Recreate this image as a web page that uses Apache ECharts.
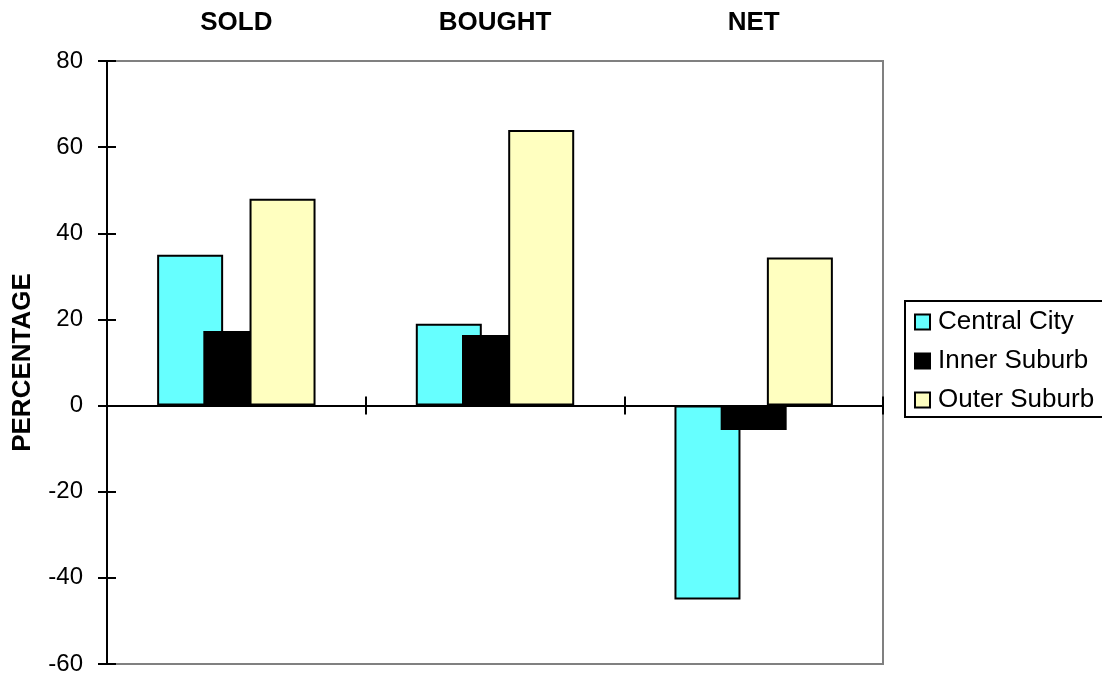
<!DOCTYPE html>
<html>
<head>
<meta charset="utf-8">
<script src="https://cdn.jsdelivr.net/npm/echarts@6/dist/echarts.min.js"></script>
<style>
  html, body { margin: 0; padding: 0; background: #fff; }
  #chart { width: 1102px; height: 679px; }
</style>
</head>
<body>
<div id="chart"></div>
<script>
const categories = ["SOLD", "BOUGHT", "NET"]
const centralCity = [35, 19, -45]
const innerSuburb = [17.3, 16.4, -5.7]
const outerSuburb = [48, 64, 34.4]
const yTicks = { min: -60, max: 80, interval: 20 }

const font = "Liberation Sans, Arial, sans-serif"

// x axes: two at zero (ticks down + ticks up), one on top for the labels
const zeroAxis = (inside) => ({
	type: "category",
	data: categories,
	position: "bottom",
	axisLine: { show: true, onZero: true, lineStyle: { color: "#000", width: 2 } },
	axisTick: { show: true, inside: inside, length: 9, interval: 0, lineStyle: { color: "#000", width: 2 } },
	axisLabel: { show: false },
	splitLine: { show: false }
})

const xAxis = [
	zeroAxis(false),
	zeroAxis(true),
	{
		type: "category",
		data: categories,
		position: "top",
		axisLine: { show: false, onZero: false },
		axisTick: { show: false },
		axisLabel: { show: true, margin: 25, color: "#000", fontSize: 26, fontWeight: "bold", fontFamily: font },
		splitLine: { show: false }
	}
]

const yAxis = [
	{
		type: "value",
		position: "left",
		min: yTicks.min,
		max: yTicks.max,
		interval: yTicks.interval,
		name: "PERCENTAGE",
		nameLocation: "middle",
		nameRotate: 90,
		nameGap: 71,
		nameTextStyle: { color: "#000", fontSize: 26, fontWeight: "bold", fontFamily: font },
		axisLine: { show: true, lineStyle: { color: "#000", width: 2 } },
		axisTick: { show: true, length: 9, lineStyle: { color: "#000", width: 2 } },
		axisLabel: { margin: 24, color: "#000", fontSize: 24, fontFamily: font },
		splitLine: { show: false }
	},
	{
		type: "value",
		position: "left",
		min: yTicks.min,
		max: yTicks.max,
		interval: yTicks.interval,
		axisLine: { show: false },
		axisTick: { show: true, inside: true, length: 9, lineStyle: { color: "#000", width: 2 } },
		axisLabel: { show: false },
		splitLine: { show: false }
	}
]

const barStyle = (color) => ({ color: color, borderColor: "#000", borderWidth: 2 })

const series = [
	{ name: "Central City", type: "bar", data: centralCity, itemStyle: barStyle("#66FFFF") },
	{ name: "Inner Suburb", type: "bar", data: innerSuburb, itemStyle: barStyle("#000000") },
	{ name: "Outer Suburb", type: "bar", data: outerSuburb, itemStyle: barStyle("#FFFFC0") }
].map((s) => Object.assign(s, { barWidth: 66, barGap: "-30%", xAxisIndex: 0, yAxisIndex: 0 }))

const chart = echarts.init(document.getElementById("chart"))
chart.setOption({
	animation: false,
	backgroundColor: "#fff",
	grid: {
		left: 107,
		top: 61,
		right: 219,
		bottom: 15,
		show: true,
		borderColor: "#808080",
		borderWidth: 2,
		backgroundColor: "transparent"
	},
	legend: {
		orient: "vertical",
		left: 905,
		top: 301,
		icon: "rect",
		itemWidth: 15,
		itemHeight: 15,
		itemGap: 13,
		padding: [8, 40, 4, 9],
		borderColor: "#000",
		borderWidth: 2,
		textStyle: { color: "#000", fontSize: 26, fontFamily: font, padding: [0, 0, 0, 3] },
		data: ["Central City", "Inner Suburb", "Outer Suburb"]
	},
	xAxis,
	yAxis,
	series
})
</script>
</body>
</html>
